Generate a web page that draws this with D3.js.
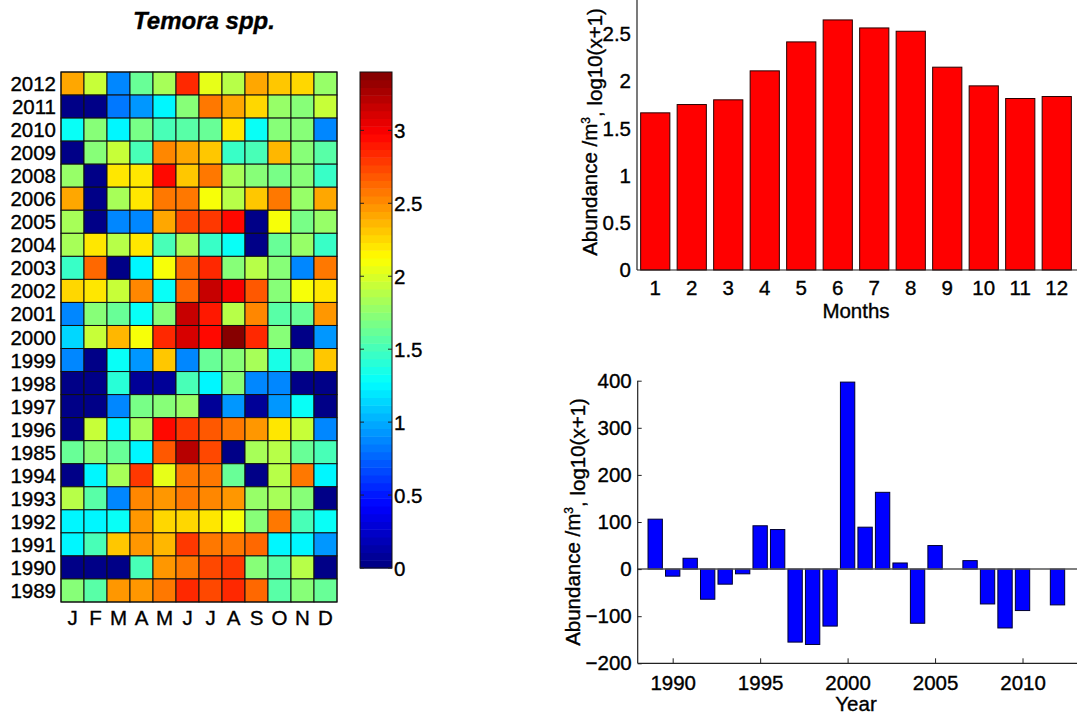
<!DOCTYPE html>
<html><head><meta charset="utf-8">
<script src="https://cdn.jsdelivr.net/npm/d3@7"></script>
<style>
html,body{margin:0;padding:0;background:#fff;}
text{font-family:Arial,"Liberation Sans",Helvetica,sans-serif;fill:#000;stroke:#000;stroke-width:0.35px;}
</style></head>
<body><svg id="c" width="1077" height="716"></svg>
<script>
// ---------------- data ----------------
const heatYears = ["2012","2011","2010","2009","2008","2006","2005","2004","2003","2002","2001","2000","1999","1998","1997","1996","1985","1994","1993","1992","1991","1990","1989"];
const monthLetters = ["J","F","M","A","M","J","J","A","S","O","N","D"];
const heatValues = [
 [2.4,1.95,0.9,1.6,1.85,2.85,2.05,1.9,2.4,2.3,2.25,1.8],
 [0.05,0.05,0.8,0.95,1.25,1.75,2.55,2.4,2.25,1.8,1.7,1.95],
 [1.3,1.7,1.25,1.65,1.5,1.55,1.6,2.2,1.3,1.7,1.75,0.9],
 [0.05,1.7,1.95,1.5,2.5,2.4,2.3,1.45,1.5,2.35,1.7,1.55],
 [1.8,0.05,2.2,2.2,2.95,2.3,2.55,1.85,1.7,1.65,1.75,1.45],
 [2.4,0.05,1.85,2.2,2.55,2.6,2.1,1.9,2.3,2.6,1.8,2.4],
 [1.85,0.05,0.85,0.85,2.4,2.75,2.8,2.95,0.05,2.1,1.65,1.8],
 [1.85,2.2,1.9,2.2,1.5,1.85,1.45,1.3,0.05,1.6,1.8,1.45],
 [1.45,2.65,0.05,1.25,2.1,2.65,2.85,1.75,1.9,1.7,0.9,2.6],
 [2.25,2.2,1.95,2.5,1.3,2.65,3.15,3.0,2.7,1.7,2.1,2.2],
 [0.9,1.7,1.6,1.3,1.75,3.15,2.9,1.9,2.5,1.55,1.6,2.45],
 [1.15,1.95,2.35,2.1,2.85,3.1,2.95,3.35,2.85,1.75,0.05,0.95],
 [0.9,0.05,1.3,0.95,2.3,0.9,1.6,1.7,1.85,1.35,1.65,2.3],
 [0.05,0.05,1.4,0.1,0.1,1.5,1.25,1.75,0.9,0.9,0.05,0.05],
 [0.05,0.05,0.9,1.65,1.75,1.8,0.1,0.95,0.1,0.95,1.3,0.05],
 [0.05,1.95,1.25,1.85,2.95,2.8,2.7,2.6,2.45,2.2,1.95,0.9],
 [1.6,1.7,1.6,1.25,2.7,3.2,2.75,0.05,1.85,1.9,1.6,1.5],
 [0.05,1.25,1.85,2.8,2.05,2.6,2.6,1.6,0.05,1.9,2.6,1.25],
 [1.9,1.55,0.9,2.5,2.45,2.6,2.5,2.45,1.8,1.85,1.75,0.05],
 [1.25,1.25,1.3,2.45,2.25,2.25,2.2,2.1,1.7,2.6,1.5,1.3],
 [1.25,1.5,2.3,2.45,2.35,2.8,2.55,2.6,2.65,1.25,1.25,0.95],
 [0.05,0.05,0.05,1.5,2.45,2.6,2.75,2.8,1.7,1.55,1.9,0.05],
 [1.75,1.55,2.45,2.45,2.6,2.85,2.75,2.85,2.65,1.55,1.7,1.6]
];
const colorbarTicks = [0,0.5,1,1.5,2,2.5,3];
const colorMax = 3.4;

const months = [1,2,3,4,5,6,7,8,9,10,11,12];
const monthMeans = [1.666,1.754,1.804,2.111,2.418,2.651,2.566,2.531,2.150,1.952,1.818,1.839];
const monthYTicks = [0,0.5,1,1.5,2,2.5];

const anomYears = [1989,1990,1991,1992,1993,1994,1995,1996,1997,1998,1999,2000,2001,2002,2003,2004,2005,2006,2007,2008,2009,2010,2011,2012];
const anomValues = [106,-15,23,-64,-32,-10,92,84,-155,-160,-121,397,89,163,13,-115,50,null,18,-74,-125,-88,null,-76];
const anomXTicks = [1990,1995,2000,2005,2010];
const anomYTicks = [-200,-100,0,100,200,300,400];

// ---------------- helpers ----------------
function jet(t){
  const c = v => Math.max(0, Math.min(1, v));
  const r = c(Math.min(4*t-1.5, -4*t+4.5));
  const g = c(Math.min(4*t-0.5, -4*t+3.5));
  const b = c(Math.min(4*t+0.5, -4*t+2.5));
  return d3.rgb(r*255, g*255, b*255).toString();
}
const N = 64;
function jetQ(v){
  let i = Math.floor(v/colorMax*N); i = Math.max(0, Math.min(N-1, i));
  return jet((i+0.5)/N);
}

const svg = d3.select("#c");
const FS = 20.5;
const FF = "Arial,'Liberation Sans',sans-serif";

// ---------------- heatmap ----------------
const hx = d3.scaleBand().domain(d3.range(12)).range([61,337]).padding(0);
const hy = d3.scaleBand().domain(heatYears).range([72,602]).padding(0);

svg.append("text").attr("x",204).attr("y",29).attr("text-anchor","middle")
  .style("font-size","24px").style("font-weight","bold").style("font-style","italic")
  .text("Temora spp.");

const cells = [];
heatValues.forEach((row,ri)=>row.forEach((v,ci)=>cells.push({y:heatYears[ri], m:ci, v})));
svg.append("g").selectAll("rect").data(cells).join("rect")
  .attr("x",d=>hx(d.m)).attr("y",d=>hy(d.y))
  .attr("width",hx.bandwidth()).attr("height",hy.bandwidth())
  .attr("fill",d=>jetQ(d.v)).attr("stroke","#111").attr("stroke-width",1);
svg.append("rect").attr("x",61).attr("y",72).attr("width",276).attr("height",530)
  .attr("fill","none").attr("stroke","#111").attr("stroke-width",1);

svg.append("g").selectAll("text").data(heatYears).join("text")
  .attr("x",56).attr("y",d=>hy(d)+hy.bandwidth()/2+7.5).attr("text-anchor","end")
  .style("font-size",FS+"px").text(d=>d);
svg.append("g").selectAll("text").data(monthLetters).join("text")
  .attr("x",(d,i)=>hx(i)+hx.bandwidth()/2).attr("y",625).attr("text-anchor","middle")
  .style("font-size",FS+"px").text(d=>d);

// ---------------- colorbar ----------------
const cbX0 = 360, cbW = 32;
const cb = d3.scaleLinear().domain([0,colorMax]).range([568,72]);
svg.append("g").selectAll("rect").data(d3.range(N)).join("rect")
  .attr("x",cbX0).attr("width",cbW)
  .attr("y",i=>cb((i+1)*colorMax/N)).attr("height",i=>cb(i*colorMax/N)-cb((i+1)*colorMax/N)+0.5)
  .attr("fill",i=>jet((i+0.5)/N));
svg.append("rect").attr("x",cbX0).attr("y",72).attr("width",cbW).attr("height",496)
  .attr("fill","none").attr("stroke","#111").attr("stroke-width",1);
const cbt = svg.append("g");
colorbarTicks.forEach(t=>{
  cbt.append("line").attr("x1",cbX0).attr("x2",cbX0+4).attr("y1",cb(t)).attr("y2",cb(t)).attr("stroke","#222");
  cbt.append("line").attr("x1",cbX0+cbW-4).attr("x2",cbX0+cbW).attr("y1",cb(t)).attr("y2",cb(t)).attr("stroke","#222");
  cbt.append("text").attr("x",cbX0+cbW+2).attr("y",cb(t)+7.5).style("font-size",FS+"px").text(d3.format("")(t));
});

// ---------------- monthly bar chart ----------------
const mx = d3.scaleBand().domain(months).range([637,1075]).paddingInner(0.2).paddingOuter(0.1);
const my = d3.scaleLinear().domain([0,3]).range([270,-13]);
svg.append("g").selectAll("rect").data(months).join("rect")
  .attr("x",d=>mx(d)).attr("width",mx.bandwidth())
  .attr("y",(d,i)=>my(monthMeans[i])).attr("height",(d,i)=>my(0)-my(monthMeans[i]))
  .attr("fill","#ff0000").attr("stroke","#2a0000").attr("stroke-width",1);
const gmx = svg.append("g").attr("transform","translate(0,270)")
  .call(d3.axisBottom(mx).tickSize(0).tickPadding(10));
gmx.select(".domain").attr("d","M637,0H1077").attr("stroke","#222").attr("stroke-width",1.2);
gmx.selectAll("text").style("font-size",FS+"px").style("font-family",FF).attr("dy","0.75em").attr("fill","#000").attr("stroke","#000").attr("stroke-width",0.35);
const gmy = svg.append("g").attr("transform","translate(637,0)")
  .call(d3.axisLeft(my).tickValues(monthYTicks).tickSize(0).tickPadding(6).tickFormat(d3.format("")));
gmy.select(".domain").attr("d","M0,-13V270").attr("stroke","#222").attr("stroke-width",1.2);
gmy.selectAll("text").style("font-size",FS+"px").style("font-family",FF).attr("fill","#000").attr("stroke","#000").attr("stroke-width",0.35);
svg.append("text").attr("x",856).attr("y",318).attr("text-anchor","middle").style("font-size",FS+"px").text("Months");

function yLabel(cx, cy){
  const t = svg.append("text").attr("transform",`translate(${cx},${cy}) rotate(-90)`)
    .attr("text-anchor","middle").style("font-size",FS+"px");
  t.append("tspan").text("Abundance /m");
  t.append("tspan").attr("dy","-0.55em").style("font-size","12px").text("3");
  t.append("tspan").attr("dy","0.55em").text(", log10(x+1)");
}
yLabel(597,132);

// ---------------- anomaly bar chart ----------------
const ax = d3.scaleLinear().domain([1988,2013]).range([637.7,1075]);
const ay = d3.scaleLinear().domain([-200,400]).range([663.3,380.7]);
const bw = 0.82;
const anom = anomYears.map((y,i)=>({y, v:anomValues[i]})).filter(d=>d.v!==null);
svg.append("g").selectAll("rect").data(anom).join("rect")
  .attr("x",d=>ax(d.y-bw/2)).attr("width",ax(bw)-ax(0))
  .attr("y",d=>ay(Math.max(0,d.v))).attr("height",d=>Math.abs(ay(d.v)-ay(0)))
  .attr("fill","#0000ff").attr("stroke","#000030").attr("stroke-width",1);
svg.append("line").attr("x1",637.7).attr("x2",1077).attr("y1",ay(0)).attr("y2",ay(0))
  .attr("stroke","#555").attr("stroke-width",1.5);
const gax = svg.append("g").attr("transform","translate(0,663.3)")
  .call(d3.axisBottom(ax).tickValues(anomXTicks).tickSize(-5).tickPadding(11).tickFormat(d3.format("d")));
gax.select(".domain").attr("d","M637.7,0H1077").attr("stroke","#222").attr("stroke-width",1.2);
gax.selectAll(".tick line").attr("stroke","#222");
gax.selectAll("text").style("font-size",FS+"px").style("font-family",FF).attr("dy","0.75em").attr("fill","#000").attr("stroke","#000").attr("stroke-width",0.35);
const gay = svg.append("g").attr("transform","translate(637.7,0)")
  .call(d3.axisLeft(ay).tickValues(anomYTicks).tickSize(-4).tickPadding(6).tickFormat(d3.format("d")));
gay.select(".domain").attr("d","M0,380.7V663.3").attr("stroke","#222").attr("stroke-width",1.2);
gay.selectAll(".tick line").attr("stroke","#222");
gay.selectAll("text").style("font-size",FS+"px").style("font-family",FF).attr("fill","#000").attr("stroke","#000").attr("stroke-width",0.35);
svg.append("text").attr("x",856).attr("y",711).attr("text-anchor","middle").style("font-size",FS+"px").text("Year");
yLabel(580,522);
</script></body></html>
